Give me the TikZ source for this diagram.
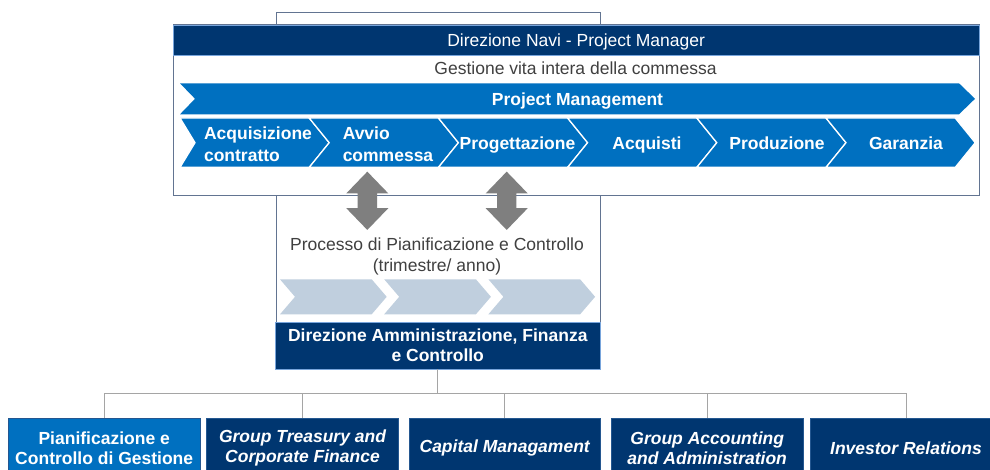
\documentclass[tikz,border=0pt]{standalone}
\usepackage{fontspec}
\setmainfont{Liberation Sans}
\usepackage{tikz}
\usetikzlibrary{shapes.arrows}
\definecolor{navy}{RGB}{0,54,112}
\definecolor{midblue}{RGB}{0,112,192}
\definecolor{paleblue}{RGB}{192,207,222}
\definecolor{frameline}{RGB}{98,116,145}
\definecolor{edgeblue}{RGB}{120,165,220}
\definecolor{treeline}{RGB}{165,165,165}
\definecolor{arrowgray}{RGB}{127,127,127}
\definecolor{textgray}{RGB}{64,64,64}
\tikzset{
  frame/.style={rectangle, draw=frameline, line width=1pt, fill=white},
  headbar/.style={rectangle, draw=edgeblue, line width=0.8pt, fill=navy,
                  text=white, inner sep=0pt, align=center,
                  font=\fontsize{17.5}{21}\selectfont},
  plain/.style={text=textgray, inner sep=0pt, align=center,
                font=\fontsize{17.5}{21}\selectfont},
  chevlbl/.style={text=white, inner sep=0pt,
                  font=\fontsize{17.5}{22.5}\selectfont\bfseries},
  phase/.style={fill=midblue, draw=white, line width=1.3pt, line join=miter},
  dblarrow/.style={shape=double arrow, rotate=90, fill=arrowgray,
                   inner xsep=0pt, inner ysep=9.5pt, minimum height=58.3pt,
                   double arrow head extend=11.3pt, double arrow tip angle=88},
  unitbox/.style={rectangle, fill=navy, draw=navy!70!edgeblue, line width=0.6pt,
                  text=white, inner sep=0pt, align=center,
                  minimum width=191.7pt, minimum height=60pt,
                  font=\fontsize{17.5}{20.5}\selectfont\bfseries\itshape},
  tree/.style={draw=treeline, line width=1pt},
}
\begin{document}
\begin{tikzpicture}[x=1pt, y=-1pt]
  \useasboundingbox (0,0) rectangle (990,470);
  \clip (0,0) rectangle (990,470);

  % ---- frames ----
  \node[frame, minimum width=324pt, minimum height=355.3pt] (pcframe) at (438,190.35) {};
  \node[frame, minimum width=806.3pt, minimum height=171.5pt] (navframe) at (576.15,110) {};
  \node[headbar, minimum width=806.3pt, minimum height=30.7pt,
        text height=12.7pt, text depth=0pt] (navihead) at (576.15,40.4) {Direzione Navi - Project Manager};
  \node[plain, anchor=base] (gestlbl) at (575.5,74.5) {Gestione vita intera della commessa};

  % ---- project management bar and phases ----
  \fill[midblue] (180,83.3) -- (959,83.3) -- (975,98.8) -- (959,114.3)
                 -- (180,114.3) -- (195,98.8) -- cycle;
  \node[chevlbl, anchor=base] (pmlbl) at (577.5,105.6) {Project Management};
  \foreach \k in {0,...,5}{
    \pgfmathsetmacro\xo{180+129.2*\k}
    \pgfmathsetmacro\nd{\k==0 ? 15 : 20}
    \filldraw[phase] (\xo,118) -- ++(129.2,0) -- ++(20,24.7) -- ++(-20,24.7)
                     -- ++(-129.2,0) -- ++(\nd,-24.7) -- cycle;
  }
  \node[chevlbl, align=left] (acq) at (258,144) {Acquisizione\\contratto};
  \node[chevlbl, align=left] (avvio) at (388,144) {Avvio\\commessa};
  \node[chevlbl, anchor=base] (prog) at (517.5,149.3) {Progettazione};
  \node[chevlbl, anchor=base] (acquisti) at (647,149.3) {Acquisti};
  \node[chevlbl, anchor=base] (prod) at (777,149.3) {Produzione};
  \node[chevlbl, anchor=base] (gar) at (906,149.3) {Garanzia};

  % ---- exchange with planning and control ----
  \node[dblarrow] (arrL) at (367.3,200.8) {};
  \node[dblarrow] (arrR) at (506.7,200.8) {};
  \node[plain] (pclbl) at (437,256.6) {Processo di Pianificazione e Controllo\\(trimestre/ anno)};
  \foreach \k in {0,1,2}{
    \pgfmathsetmacro\xo{280+104.2*\k}
    \fill[paleblue] (\xo,279.3) -- ++(91.7,0) -- ++(15,17.5) -- ++(-15,17.5)
                    -- ++(-91.7,0) -- ++(15,-17.5) -- cycle;
  }
  \node[headbar, minimum width=324.5pt, minimum height=46.8pt,
        font=\fontsize{17.5}{20}\selectfont\bfseries] (dafc) at (437.75,345.6) {Direzione Amministrazione, Finanza\\e Controllo};

  % ---- reporting units ----
  \node[unitbox, fill=midblue, font=\fontsize{17.5}{20.5}\selectfont\bfseries] (pcg) at (104.2,448) {Pianificazione e\\Controllo di Gestione};
  \node[unitbox] (gtcf) at (302.5,448) {Group Treasury and\\Corporate Finance};
  \node[unitbox] (capm) at (504.7,448) {Capital Managament};
  \node[unitbox] (gaa) at (707.2,448) {Group Accounting\\and Administration};
  \node[unitbox] (ir) at (906,448) {Investor Relations};
  \foreach \u in {pcg,gtcf,capm,gaa,ir}
    \draw[tree] (dafc.south) -- ++(0,24) -| (\u.north);
\end{tikzpicture}
\end{document}
